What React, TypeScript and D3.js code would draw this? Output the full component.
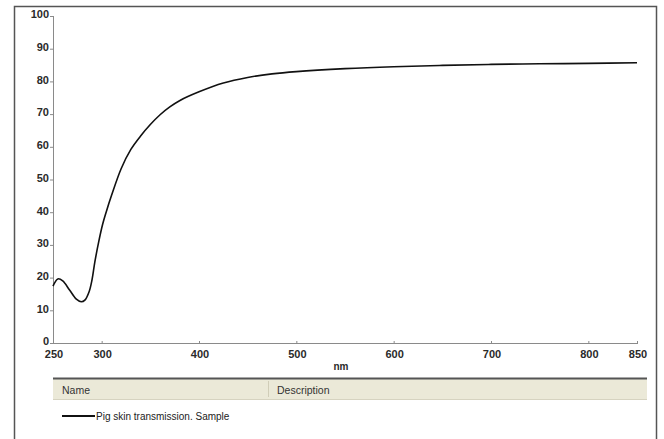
import React, { useEffect, useRef } from 'react';
import * as d3 from 'd3';

// wavelength (nm) and transmission (%)
const wavelengths = [250, 255, 260, 267, 274, 279, 283, 287, 290, 293, 297, 301, 305, 310, 320, 330, 340, 350, 360, 370, 380, 400, 425, 450, 475, 500, 550, 600, 650, 700, 750, 800, 850];
const transmission = [17.4, 19.6, 19.0, 16.2, 13.4, 12.6, 13.2, 15.6, 19.2, 24.8, 31.0, 36.3, 40.4, 45.0, 53.3, 59.2, 63.3, 66.8, 69.8, 72.2, 74.1, 76.8, 79.5, 81.2, 82.3, 83.0, 83.9, 84.5, 84.9, 85.2, 85.4, 85.5, 85.7];

const xTicks = [250, 300, 400, 500, 600, 700, 800, 850];
const yTicks = [0, 10, 20, 30, 40, 50, 60, 70, 80, 90, 100];

const seriesName = 'Pig skin transmission. Sample';
const headerCols = ['Name', 'Description'];

interface Pt {
    nm: number;
    t: number;
}

const App: React.FC = () => {
    const ref = useRef<SVGSVGElement>(null);
    const width = 664;
    const height = 439;
    const plot = { left: 53, right: 637, top: 16, bottom: 343 };

    useEffect(() => {
        drawChart();
        //eslint-disable-next-line
    }, []);

    const drawChart = () => {
        const data: Pt[] = wavelengths.map((nm, i) => ({ nm, t: transmission[i] }));

        const x = d3.scaleLinear().domain([250, 850]).range([plot.left, plot.right]);
        const y = d3.scaleLinear().domain([0, 100]).range([plot.bottom, plot.top]);

        const svg = d3.select(ref.current);
        svg.selectAll('*').remove();

        const font = '"Liberation Sans", Arial, sans-serif';

        // outer frame
        svg.append('rect')
            .attr('x', 14.5).attr('y', 6.5)
            .attr('width', 642).attr('height', 440)
            .attr('fill', '#fff')
            .attr('stroke', '#555')
            .attr('stroke-width', 1.5);

        // y axis
        const yAxis = svg.append('g');
        yAxis.append('line')
            .attr('x1', plot.left + 0.5).attr('x2', plot.left + 0.5)
            .attr('y1', plot.top).attr('y2', plot.bottom)
            .attr('stroke', '#8a8a8a');
        yTicks.forEach(v => {
            yAxis.append('line')
                .attr('x1', plot.left - 3).attr('x2', plot.left)
                .attr('y1', y(v) + 0.5).attr('y2', y(v) + 0.5)
                .attr('stroke', '#8a8a8a');
            yAxis.append('text')
                .attr('x', plot.left - 4)
                .attr('y', y(v) - 1.5)
                .attr('dy', '0.35em')
                .attr('text-anchor', 'end')
                .attr('font-family', font)
                .attr('font-weight', 'bold')
                .attr('font-size', 11)
                .attr('fill', '#2a2a2a')
                .text(v);
        });

        // x axis
        const xAxis = svg.append('g');
        xAxis.append('line')
            .attr('x1', plot.left).attr('x2', plot.right)
            .attr('y1', plot.bottom + 0.5).attr('y2', plot.bottom + 0.5)
            .attr('stroke', '#8a8a8a');
        xTicks.forEach(v => {
            xAxis.append('line')
                .attr('x1', x(v) + 0.5).attr('x2', x(v) + 0.5)
                .attr('y1', plot.bottom - 2).attr('y2', plot.bottom + 1)
                .attr('stroke', '#8a8a8a');
            xAxis.append('text')
                .attr('x', x(v) + 1)
                .attr('y', 354.5)
                .attr('dy', '0.35em')
                .attr('text-anchor', 'middle')
                .attr('font-family', font)
                .attr('font-weight', 'bold')
                .attr('font-size', 11)
                .attr('fill', '#2a2a2a')
                .text(v);
        });
        xAxis.append('text')
            .attr('x', 341).attr('y', 366)
            .attr('dy', '0.35em')
            .attr('text-anchor', 'middle')
            .attr('font-family', font)
            .attr('font-weight', 'bold')
            .attr('font-size', 10)
            .attr('fill', '#2a2a2a')
            .text('nm');

        // curve
        const line = d3.line<Pt>()
            .x(d => x(d.nm))
            .y(d => y(d.t))
            .curve(d3.curveCatmullRom.alpha(0.5));
        svg.append('path')
            .datum(data)
            .attr('fill', 'none')
            .attr('stroke', '#111')
            .attr('stroke-width', 1.6)
            .attr('d', line);

        // legend table
        const lg = svg.append('g');
        lg.append('rect')
            .attr('x', 53).attr('y', 378)
            .attr('width', 594).attr('height', 22)
            .attr('fill', '#ebe9d8');
        lg.append('line')
            .attr('x1', 53).attr('x2', 647)
            .attr('y1', 378.5).attr('y2', 378.5)
            .attr('stroke', '#555').attr('stroke-width', 2);
        lg.append('line')
            .attr('x1', 53).attr('x2', 647)
            .attr('y1', 399.5).attr('y2', 399.5)
            .attr('stroke', '#d6d3c0');
        lg.append('line')
            .attr('x1', 268.5).attr('x2', 268.5)
            .attr('y1', 381).attr('y2', 397)
            .attr('stroke', '#d0cdb8');
        [62, 277].forEach((cx, i) => {
            lg.append('text')
                .attr('x', cx).attr('y', 390)
                .attr('dy', '0.35em')
                .attr('font-family', font)
                .attr('font-size', 10.5)
                .attr('fill', '#333')
                .text(headerCols[i]);
        });
        lg.append('line')
            .attr('x1', 62).attr('x2', 95)
            .attr('y1', 416).attr('y2', 416)
            .attr('stroke', '#111').attr('stroke-width', 2);
        lg.append('text')
            .attr('x', 96).attr('y', 416)
            .attr('dy', '0.35em')
            .attr('font-family', font)
            .attr('font-size', 10)
            .attr('fill', '#222')
            .text(seriesName);
    };

    return (
        <svg ref={ref} width={width} height={height}
            style={{ position: 'absolute', left: 0, top: 0, background: '#fff' }}></svg>
    );
};

export default App;
